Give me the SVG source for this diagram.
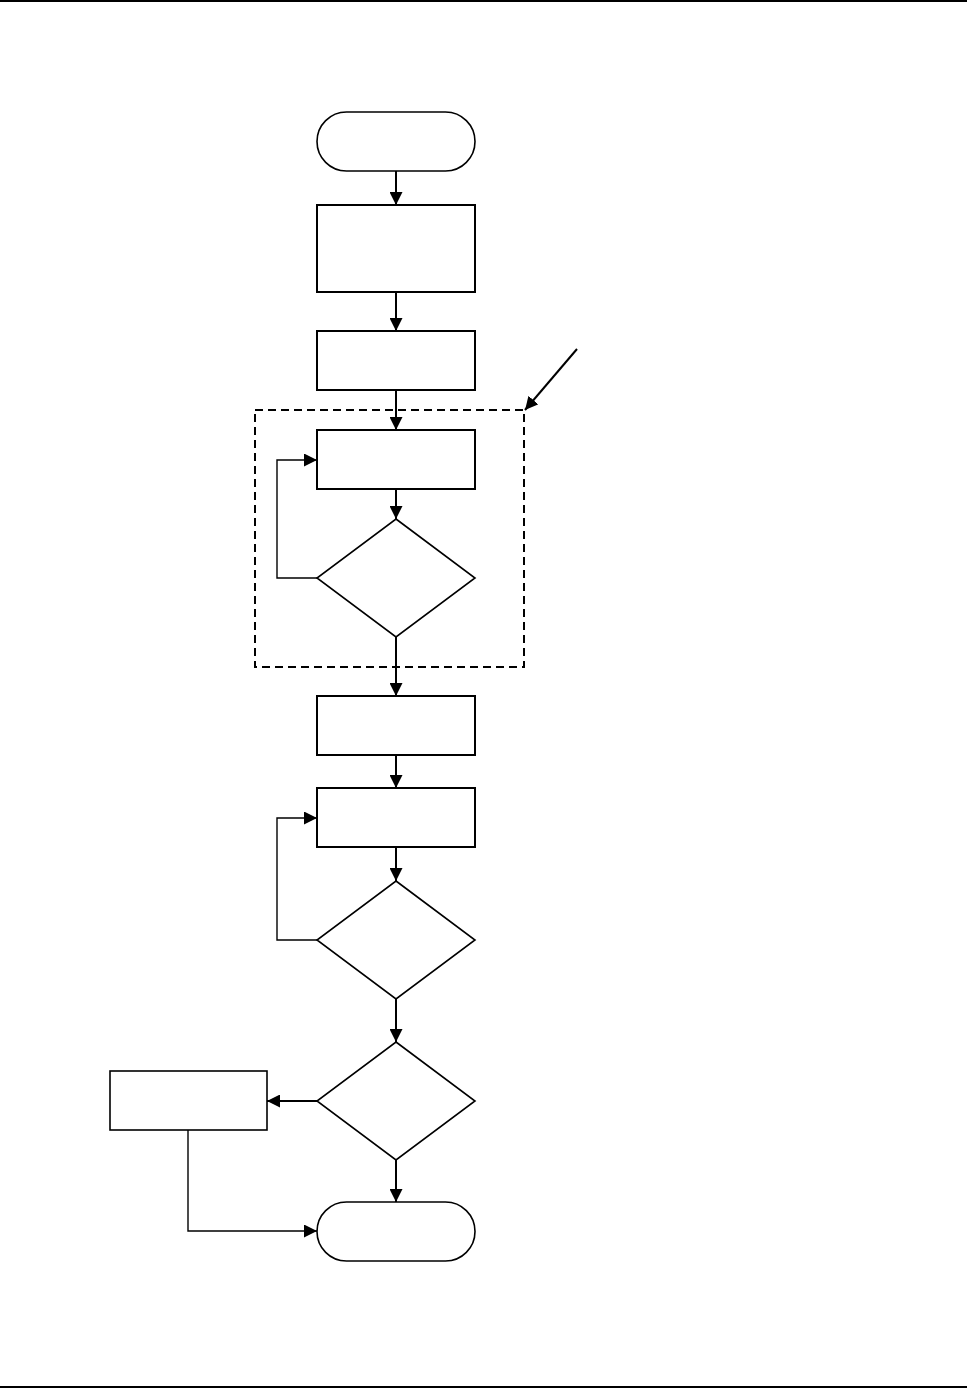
<svg xmlns="http://www.w3.org/2000/svg" width="973" height="1390" viewBox="0 0 973 1390">
<style>
.n{fill:#fff;stroke:#000;stroke-width:2}
.d{fill:#fff;stroke:#000;stroke-width:1.6}
.c{fill:none;stroke:#000;stroke-width:2}
.t{fill:none;stroke:#000;stroke-width:1.4}
</style>
<defs>
<marker id="b" viewBox="0 0 10 10" refX="10" refY="5" markerWidth="13" markerHeight="13" markerUnits="userSpaceOnUse" orient="auto"><path d="M0,0L10,5L0,10z" fill="#000"/></marker>
</defs>
<rect x="0" y="0" width="967" height="2" fill="#000"/>
<rect x="0" y="1386" width="967" height="2" fill="#000"/>
<g id="group-box"><rect x="255" y="410" width="269" height="257" fill="none" stroke="#000" stroke-width="2" stroke-dasharray="8,5"/></g>
<g id="start"><rect class="d" x="317" y="112" width="158" height="59" rx="29.5"/></g>
<g id="box1"><rect class="n" x="317" y="205" width="158" height="87"/></g>
<g id="box2"><rect class="n" x="317" y="331" width="158" height="59"/></g>
<g id="box3"><rect class="n" x="317" y="430" width="158" height="59"/></g>
<g id="dec1"><path class="d" d="M396,519L475,578L396,637L317,578z"/></g>
<g id="box4"><rect class="n" x="317" y="696" width="158" height="59"/></g>
<g id="box5"><rect class="n" x="317" y="788" width="158" height="59"/></g>
<g id="dec2"><path class="d" d="M396,881L475,940L396,999L317,940z"/></g>
<g id="dec3"><path class="d" d="M396,1042L475,1101L396,1160L317,1101z"/></g>
<g id="boxL"><rect class="d" x="110" y="1071" width="157" height="59"/></g>
<g id="end"><rect class="d" x="317" y="1202" width="158" height="59" rx="29.5"/></g>
<g id="connectors">
<line class="c" x1="396" y1="171" x2="396" y2="205" marker-end="url(#b)"/>
<line class="c" x1="396" y1="292" x2="396" y2="331" marker-end="url(#b)"/>
<line class="c" x1="396" y1="390" x2="396" y2="430" marker-end="url(#b)"/>
<line class="c" x1="396" y1="489" x2="396" y2="519" marker-end="url(#b)"/>
<polyline class="t" points="317,578 277,578 277,460 317,460" marker-end="url(#b)"/>
<line class="c" x1="396" y1="637" x2="396" y2="696" marker-end="url(#b)"/>
<line class="c" x1="396" y1="755" x2="396" y2="788" marker-end="url(#b)"/>
<line class="c" x1="396" y1="847" x2="396" y2="881" marker-end="url(#b)"/>
<polyline class="t" points="317,940 277,940 277,818 317,818" marker-end="url(#b)"/>
<line class="c" x1="396" y1="999" x2="396" y2="1042" marker-end="url(#b)"/>
<line class="c" x1="317" y1="1101" x2="267" y2="1101" marker-end="url(#b)"/>
<line class="c" x1="396" y1="1160" x2="396" y2="1202" marker-end="url(#b)"/>
<polyline class="t" points="188,1130 188,1231 317,1231" marker-end="url(#b)"/>
<line class="c" x1="577" y1="349" x2="525" y2="410" marker-end="url(#b)"/>
</g>
</svg>
